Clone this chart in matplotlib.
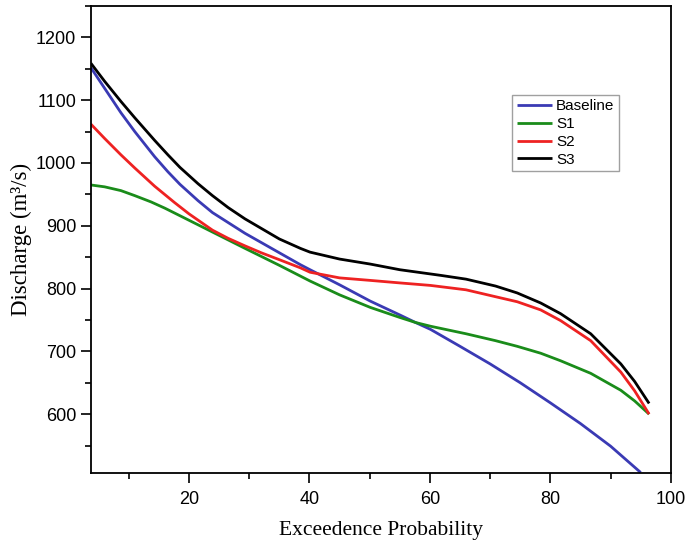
import matplotlib
matplotlib.use("Agg")
import matplotlib.pyplot as plt
from matplotlib.ticker import MultipleLocator

# curvas de permanência
x_base = [3.7, 8.7, 11, 14.3, 16.5, 18.5, 21.5, 23.9, 29.3, 35, 38.5, 40.1, 45, 50.1, 55,
          57.6, 60.1, 65, 70, 75, 80, 85, 90, 95]
baseline = [1152, 1080, 1050, 1010, 986, 966, 940, 921, 888, 857, 838, 830, 806, 780, 758,
            746, 735, 708, 680, 650, 618, 585, 549, 507]

x_s1 = [3.7, 6, 8.7, 11, 13.7, 16, 18.5, 23.9, 29.3, 35, 40.1, 45, 50.1, 55, 57.6, 60.1,
        66, 70.9, 74.5, 78.4, 81.7, 86.7, 91.7, 94, 96.4]
s1 = [965, 962, 956, 948, 938, 928, 916, 890, 864, 837, 812, 790, 770, 754, 746, 740,
      728, 717, 708, 697, 685, 665, 638, 621, 600]

x_s2 = [3.7, 6, 8.7, 11, 14.3, 17.6, 20, 23.9, 26.5, 29.3, 32, 35, 38.5, 40.1, 45, 50.1,
        55, 60.1, 66, 70.9, 74.5, 78.4, 81.7, 86.7, 91.7, 94, 96.4]
s2 = [1062, 1039, 1013, 992, 963, 937, 919, 893, 880, 868, 857, 846, 833, 826, 817, 813,
      809, 805, 798, 787, 779, 766, 749, 717, 667, 637, 600]

x_s3 = [3.7, 6, 8.7, 11, 14.3, 16.5, 18.5, 21.5, 23.9, 26.5, 29.3, 35, 38.5, 40.1, 45, 50.1,
        55, 61.8, 66, 70.9, 74.5, 78.4, 81.7, 86.7, 91.7, 94, 96.4]
s3 = [1159, 1130, 1098, 1072, 1036, 1013, 993, 967, 948, 929, 911, 879, 864, 858, 847, 839,
      830, 821, 815, 804, 793, 777, 760, 728, 680, 652, 617]

fig = plt.figure(figsize=(6.88, 5.47), dpi=100)
ax = fig.add_axes([0.132, 0.135, 0.843, 0.854])

kw = dict(lw=2, solid_joinstyle="round", solid_capstyle="butt")
ax.plot(x_base, baseline, color="#3a3ab4", label="Baseline", **kw)
ax.plot(x_s1, s1, color="#1a8c1a", label="S1", **kw)
ax.plot(x_s2, s2, color="#ee2222", label="S2", **kw)
ax.plot(x_s3, s3, color="black", label="S3", **kw)

ax.set_xlim(3.7, 100)
ax.set_ylim(506, 1250)
ax.xaxis.set_major_locator(MultipleLocator(20))
ax.xaxis.set_minor_locator(MultipleLocator(10))
ax.yaxis.set_major_locator(MultipleLocator(100))
ax.yaxis.set_minor_locator(MultipleLocator(50))
ax.tick_params(which="major", direction="out", length=7.5, width=1.2, labelsize=13)
ax.tick_params(which="minor", direction="out", length=4.5, width=1.2)
ax.tick_params(axis="x", which="major", pad=5)
ax.tick_params(axis="y", which="major", pad=3)
for lab in ax.get_xticklabels() + ax.get_yticklabels():
    lab.set_fontfamily("Liberation Sans")
for sp in ax.spines.values():
    sp.set_linewidth(1.3)

ax.set_xlabel("Exceedence Probability", fontfamily="Liberation Serif", fontsize=15.5, labelpad=10)
ax.set_ylabel("Discharge (m\u00b3/s)", fontfamily="Liberation Serif", fontsize=16.5, labelpad=3)

leg = ax.legend(loc="upper left", bbox_to_anchor=(0.727, 0.81), fancybox=False,
                edgecolor="#888888", handlelength=2.3, handletextpad=0.25,
                labelspacing=0.25, borderpad=0.3, borderaxespad=0,
                prop={"family": "Liberation Sans", "size": 11})
leg.get_frame().set_linewidth(1.0)

fig.savefig("out.png", dpi=100)
